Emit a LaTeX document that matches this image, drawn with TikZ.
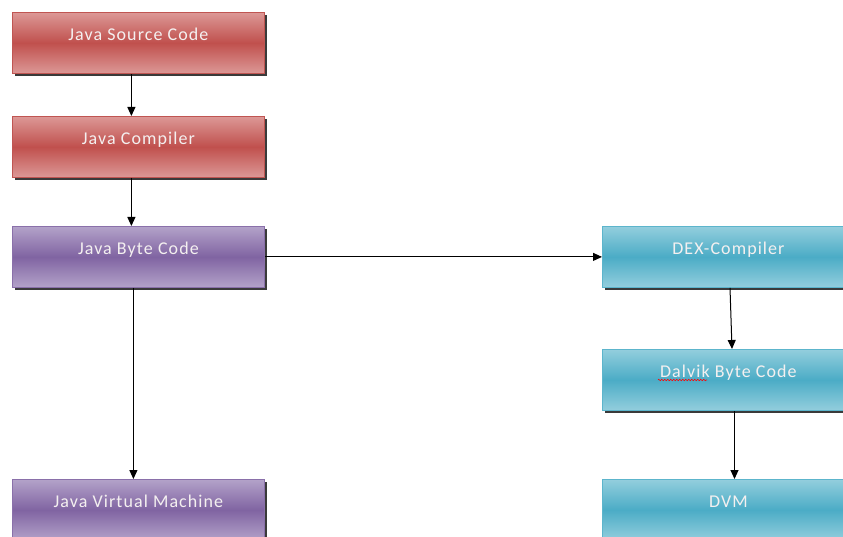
\documentclass[tikz,border=0pt]{standalone}
\usepackage{fontspec}
\setmainfont{Carlito}
\usetikzlibrary{arrows.meta,positioning,shadows,decorations.pathmorphing}
\definecolor{redmid}{HTML}{C0504D}
\definecolor{redlight}{HTML}{DC9896}
\definecolor{redline}{HTML}{C05552}
\definecolor{purmid}{HTML}{8064A2}
\definecolor{purlight}{HTML}{B3A2C9}
\definecolor{purline}{HTML}{8A70AA}
\definecolor{bluemid}{HTML}{4BACC6}
\definecolor{bluelight}{HTML}{93CEDD}
\definecolor{blueline}{HTML}{5CB5CC}
\definecolor{shadowc}{HTML}{3A3A3A}
\definecolor{txt}{HTML}{F4F0F0}
\newfontfamily\boxfont[LetterSpace=6]{Carlito}
\tikzset{
  box/.style={anchor=north west, minimum width=252pt, minimum height=61pt,
    inner sep=0pt, text height=12.5pt, text depth=17pt, text=txt,
    font=\boxfont\fontsize{18}{20}\selectfont, line width=0.8pt,
    drop shadow={shadow xshift=2.5pt, shadow yshift=-2.5pt, fill=shadowc, opacity=1}},
  redbox/.style={box, draw=redline, top color=redlight, bottom color=redlight, middle color=redmid},
  purbox/.style={box, draw=purline, top color=purlight, bottom color=purlight, middle color=purmid},
  bluebox/.style={box, draw=blueline, top color=bluelight, bottom color=bluelight, middle color=bluemid},
  arr/.style={-{Triangle[length=9pt,width=8pt]}, line width=1pt, black}
}
\begin{document}
\begin{tikzpicture}[x=1pt,y=-1pt]
\useasboundingbox (0,0) rectangle (843,537);
\begin{scope}
\clip (0,0) rectangle (843,537);
\fill[white] (0,0) rectangle (843,537);
\node[redbox] (jsc) at (12,12) {Java Source Code};
\node[redbox] (jc) at (12,116) {Java Compiler};
\node[purbox] (jbc) at (12,226) {Java Byte Code};
\node[purbox] (jvm) at (12,479) {Java Virtual Machine};
\node[bluebox] (dex) at (602,226) {DEX-Compiler};
\node[bluebox] (dbc) at (602,349) {Dalvik Byte Code};
\node[bluebox] (dvm) at (602,479) {DVM};
\draw[red, line width=0.6pt, decorate, decoration={zigzag, segment length=3pt, amplitude=0.8pt}]
  (658,380) -- (707,380);
\coordinate (a1) at ([xshift=-7pt]jsc.south);
\draw[arr] (a1) -- (a1 |- jc.north);
\coordinate (a2) at ([xshift=-7pt]jc.south);
\draw[arr] (a2) -- (a2 |- jbc.north);
\draw[arr] (jbc.east) -- (dex.west);
\coordinate (a3) at ([xshift=-5pt]jbc.south);
\draw[arr] (a3) -- (a3 |- jvm.north);
\coordinate (a4) at (730,287);
\draw[arr] (dex.south -| a4) -- (732,349);
\coordinate (a5) at (734.5,410);
\draw[arr] (dbc.south -| a5) -- (a5 |- dvm.north);
\end{scope}
\end{tikzpicture}
\end{document}
